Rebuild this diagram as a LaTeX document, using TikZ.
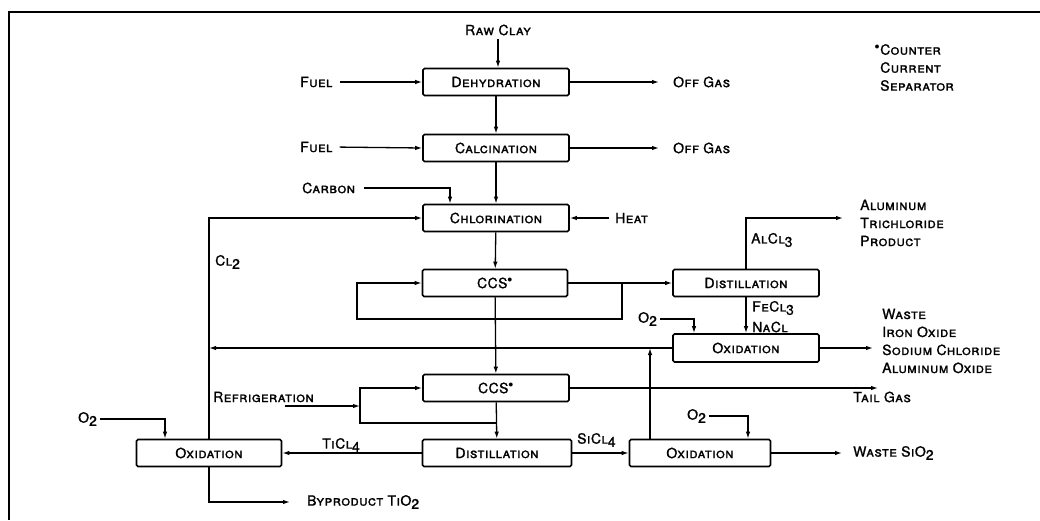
\documentclass[tikz,border=0pt]{standalone}
\usepackage{fontspec}
\setmainfont{TeX Gyre Heros}[LetterSpace=3, FakeBold=1.2]
\usetikzlibrary{arrows.meta}
\newcommand{\dn}[1]{\raisebox{-0.45ex}{#1}}
\tikzset{
  unit/.style={draw, line width=1.6pt, rounded corners=1.5pt, minimum height=27pt, inner sep=0pt},
  flow/.style={line width=1.3pt, -{Latex[length=7pt,width=4.5pt]}},
  lbl/.style={inner sep=0pt, anchor=west},
  list/.style={lbl, align=left}
}
\begin{document}
\begin{tikzpicture}[x=1pt, y=-1pt, every node/.style={font=\fontsize{14}{18}\selectfont\scshape}]
  \useasboundingbox (0,0) rectangle (1040,520);
  \draw[line width=1.8pt] (1040,12) -- (9,12) -- (9,520);

  \node[unit, minimum width=146pt] (dehyd) at (496,82) {Dehydration};
  \node[unit, minimum width=146pt] (calc) at (496,148) {Calcination};
  \node[unit, minimum width=146pt] (chlor) at (496,218) {Chlorination};
  \node[unit, minimum width=145pt] (ccsA) at (495,283) {CCS$^{\bullet}$};
  \node[unit, minimum width=146pt] (distA) at (746,283) {Distillation};
  \node[unit, minimum width=146pt, minimum height=28pt] (oxM) at (746,348) {Oxidation};
  \node[unit, minimum width=146pt] (ccsB) at (496,388) {CCS$^{\bullet}$};
  \node[unit, minimum width=149pt] (distB) at (497,453) {Distillation};
  \node[unit, minimum width=145pt] (oxL) at (209,453) {Oxidation};
  \node[unit, minimum width=141pt] (oxR) at (700,453) {Oxidation};

  \node[anchor=center, inner sep=0pt] (raw) at (498,30) {Raw Clay};
  \node[lbl] (fuelA) at (300,82) {Fuel};
  \node[lbl] (fuelB) at (300,147) {Fuel};
  \node[lbl] (offA) at (673,82) {Off Gas};
  \node[lbl] (offB) at (673,148) {Off Gas};
  \node[lbl] (carbon) at (302,188) {Carbon};
  \node[lbl] (heat) at (615,218) {Heat};
  \node[lbl] at (215,262) {Cl\dn{2}};
  \node[lbl] at (751,240) {AlCl\dn{3}};
  \node[list] (alprod) at (860,223) {Aluminum\\Trichloride\\Product};
  \node[lbl] at (752,308) {FeCl\dn{3}};
  \node[lbl] at (752,327) {NaCl};
  \node[lbl] (o2M) at (638,319) {O\dn{2}};
  \node[list] (waste) at (882,341) {Waste\\Iron Oxide\\Sodium Chloride\\Aluminum Oxide};
  \node[lbl] (tail) at (853,397) {Tail Gas};
  \node[lbl] at (213,397) {Refrigeration};
  \node[lbl] (o2L) at (78,419) {O\dn{2}};
  \node[lbl] (o2R) at (687,416) {O\dn{2}};
  \node[lbl] at (322,445) {TiCl\dn{4}};
  \node[lbl] at (577,440) {SiCl\dn{4}};
  \node[lbl] (wsi) at (853,453) {Waste SiO\dn{2}};
  \node[lbl] (byprod) at (307,502) {Byproduct TiO\dn{2}};
  \node[list, anchor=north west] at (880,44) {\llap{$^{\bullet}$}Counter\\Current\\Separator};

  \coordinate (jA) at (622,283);
  \coordinate (jB) at (496,423);
  \coordinate (alend) at (843,218);
  \coordinate (tailend) at (878,388);
  \coordinate (refin) at (285,406);

  \draw[flow, shorten <=3pt] (raw.south) -- (raw.south |- dehyd.north);
  \draw[flow] (dehyd) -- (calc);
  \draw[flow] (calc) -- (chlor);
  \draw[flow] (chlor) -- (ccsA);
  \draw[flow] (ccsA) -- (ccsB);
  \draw[flow] (ccsB) -- (distB);
  \draw[flow, shorten <=7pt] (fuelA.east) -- (dehyd.west);
  \draw[flow, shorten <=7pt] (fuelB.east) -- (calc.west);
  \draw[flow, shorten >=14pt] (dehyd.east) -- (offA.west);
  \draw[flow, shorten >=14pt] (calc.east) -- (offB.west);
  \draw[flow, shorten <=9pt] (carbon.east) -| ([xshift=-46pt]chlor.north);
  \draw[flow, shorten <=6pt] (heat.west) -- (chlor.east);
  \draw[flow] (oxL.north) |- (chlor.west);
  \draw[flow] (ccsA.east) -- (distA.west);
  \draw[flow] (jA) |- (357,319) |- (ccsA.west);
  \draw[flow] (distA.north) |- (alend);
  \draw[flow] (distA.south) -- (oxM.north);
  \draw[flow, shorten <=3pt] (o2M.east) -| ([xshift=-52pt]oxM.north);
  \draw[flow, shorten >=9pt] (oxM.east) -- (oxM.east -| waste.west);
  \draw[flow] (oxM.west) -- (oxM.west -| oxL.north);
  \draw[flow] ([xshift=-50pt]oxR.north) -- ([xshift=-50pt]oxR.north |- oxM.west);
  \draw[flow] (ccsB.east) -- (tailend);
  \draw[flow] (refin) -- (360,406);
  \draw[flow] (jB) -| (360,388) -- (ccsB.west);
  \draw[flow] (distB.west) -- (oxL.east);
  \draw[flow] (distB.east) -- (oxR.west);
  \draw[flow, shorten <=3pt] (o2L.east) -| ([xshift=-44pt]oxL.north);
  \draw[flow, shorten <=3pt] (o2R.east) -| ([xshift=48pt]oxR.north);
  \draw[flow, shorten >=11pt] (oxR.east) -- (wsi.west);
  \draw[flow, shorten >=17pt] (oxL.south) |- (byprod.west);
\end{tikzpicture}
\end{document}
